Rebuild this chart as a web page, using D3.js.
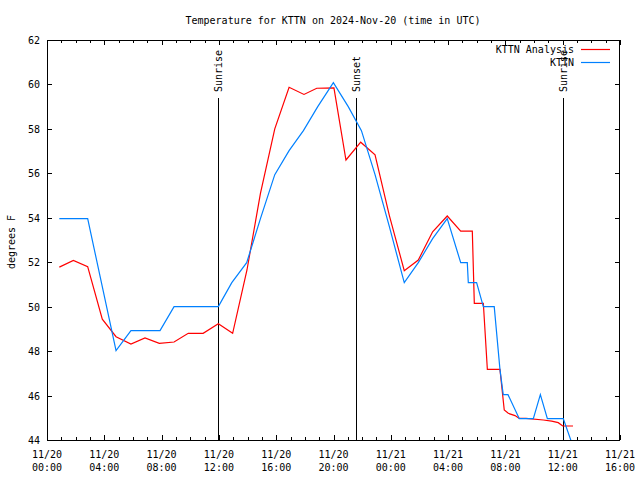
<!DOCTYPE html>
<html><head><meta charset="utf-8">
<script src="https://cdn.jsdelivr.net/npm/d3@7"></script>
<style>
body{margin:0;background:#fff}
svg text{font-family:"DejaVu Sans Mono",monospace;font-size:10px;fill:#000}
</style>
</head><body>
<svg id="chart" width="640" height="480"></svg>
<script>
// ---- data (hours since 2024-11-20 00:00 UTC) ----
const analysisHours = [0.86,1.84,2.84,3.86,4.82,5.86,6.84,7.84,8.87,9.86,10.9,11.96,12.96,13.96,14.9,15.9,16.9,17.94,18.83,20.03,20.87,21.9,22.9,23.9,24.94,25.92,26.92,27.94,28.88,29.69,29.83,30.46,30.74,31.62,31.92,32.2,32.67,32.97,33.44,34.65,35.23,35.69,36.0,36.72];
const analysisTemps = [51.78,52.08,51.8,49.44,48.65,48.32,48.59,48.35,48.41,48.8,48.8,49.23,48.8,51.65,55.1,58.0,59.87,59.55,59.83,59.85,56.6,57.4,56.83,54.1,51.62,52.1,53.37,54.08,53.4,53.4,50.15,50.15,47.18,47.18,45.35,45.2,45.1,44.97,44.97,44.9,44.85,44.78,44.63,44.63];
const obsHours = [0.86,2.84,4.82,5.86,7.89,8.87,11.96,12.9,13.94,14.9,15.9,16.9,17.9,18.9,19.99,21.03,21.95,22.9,23.9,24.94,25.92,26.92,27.94,28.88,29.34,29.41,29.99,30.46,31.22,31.62,31.85,32.18,32.97,33.95,34.44,34.93,36.04,37.0];
const obsTemps = [53.96,53.96,48.02,48.92,48.92,50.0,50.0,51.08,51.98,53.96,55.94,57.02,57.92,59.0,60.08,59.0,57.92,55.94,53.6,51.08,51.98,53.06,53.96,51.98,51.98,51.08,51.08,50.0,50.0,47.18,46.04,46.04,44.96,44.96,46.04,44.96,44.96,43.2];
const xTickHours = [0,4,8,12,16,20,24,28,32,36,40];
const xTickDates = ["11/20","11/20","11/20","11/20","11/20","11/20","11/21","11/21","11/21","11/21","11/21"];
const xTickTimes = ["00:00","04:00","08:00","12:00","16:00","20:00","00:00","04:00","08:00","12:00","16:00"];
const yTicks = [44,46,48,50,52,54,56,58,60,62];
const eventNames = ["Sunrise","Sunset","Sunrise"];
const eventHours = [11.95,21.57,36.05];
const seriesNames = ["KTTN Analysis","KTTN"];
const seriesColors = ["#ff0000","#0080ff"];

// ---- layout ----
const L=47,R=620,T=40,B=440;
const svg=d3.select("#chart");
const x=d3.scaleLinear().domain([0,40]).range([L,R]);
const y=d3.scaleLinear().domain([44,62]).range([B,T]);

svg.append("defs").append("clipPath").attr("id","clip")
  .append("rect").attr("x",L).attr("y",T).attr("width",R-L).attr("height",B-T);

// axes ticks (inward, mirrored)
const minor=d3.range(0,41);
function addAxis(gen,tr){
  const g=svg.append("g").attr("transform",tr).call(gen);
  g.select(".domain").remove();
  g.selectAll("line").attr("stroke","#000").attr("shape-rendering","crispEdges");
  return g;
}
addAxis(d3.axisBottom(x).tickValues(minor).tickSize(-3).tickFormat(""),`translate(0,${B})`);
addAxis(d3.axisBottom(x).tickValues(xTickHours).tickSize(-5).tickFormat(""),`translate(0,${B})`);
addAxis(d3.axisTop(x).tickValues(minor).tickSize(-3).tickFormat(""),`translate(0,${T})`);
addAxis(d3.axisTop(x).tickValues(xTickHours).tickSize(-5).tickFormat(""),`translate(0,${T})`);
addAxis(d3.axisLeft(y).tickValues(yTicks).tickSize(-5).tickFormat(""),`translate(${L},0)`);
addAxis(d3.axisRight(y).tickValues(yTicks).tickSize(-5).tickFormat(""),`translate(${R},0)`);

// tick labels
const xl=svg.append("g").attr("text-anchor","middle");
xTickHours.forEach((h,i)=>{
  xl.append("text").attr("x",x(h)).attr("y",458).text(xTickDates[i]);
  xl.append("text").attr("x",x(h)).attr("y",471).text(xTickTimes[i]);
});
svg.append("g").attr("text-anchor","end").selectAll("text").data(yTicks).join("text")
  .attr("x",40).attr("y",d=>y(d)+4).text(d=>d);

// border
svg.append("rect").attr("x",L+0.5).attr("y",T+0.5).attr("width",R-L-1).attr("height",B-T)
  .attr("fill","none").attr("stroke","#000").attr("shape-rendering","crispEdges");

// event lines
eventHours.forEach((h,i)=>{
  const xp=Math.round(x(h))+0.5;
  svg.append("line").attr("x1",xp).attr("x2",xp).attr("y1",98).attr("y2",B)
    .attr("stroke","#000").attr("stroke-width",1).attr("shape-rendering","crispEdges");
  svg.append("text").attr("transform",`translate(${xp},92) rotate(-90)`)
    .attr("text-anchor","start").attr("dy","0.35em").text(eventNames[i]);
});

// series
const line=d3.line().x(d=>x(d[0])).y(d=>y(d[1]));
const gData=svg.append("g").attr("clip-path","url(#clip)");
gData.append("path").datum(analysisHours.map((h,i)=>[h,analysisTemps[i]]))
  .attr("d",line).attr("fill","none").attr("stroke",seriesColors[0]).attr("stroke-width",1.2);
gData.append("path").datum(obsHours.map((h,i)=>[h,obsTemps[i]]))
  .attr("d",line).attr("fill","none").attr("stroke",seriesColors[1]).attr("stroke-width",1.2);

// legend
const legY=[49,62];
seriesNames.forEach((n,i)=>{
  svg.append("text").attr("x",574).attr("y",legY[i]+3.5).attr("text-anchor","end").text(n);
  svg.append("line").attr("x1",581).attr("x2",610).attr("y1",legY[i]+0.5).attr("y2",legY[i]+0.5)
    .attr("stroke",seriesColors[i]).attr("stroke-width",1.2);
});

// title & y label
svg.append("text").attr("x",333).attr("y",23.5).attr("text-anchor","middle")
  .text("Temperature for KTTN on 2024-Nov-20 (time in UTC)");
svg.append("text").attr("transform","translate(11,242) rotate(-90)").attr("text-anchor","middle")
  .attr("dy","0.35em").text("degrees F");
</script>
</body></html>
